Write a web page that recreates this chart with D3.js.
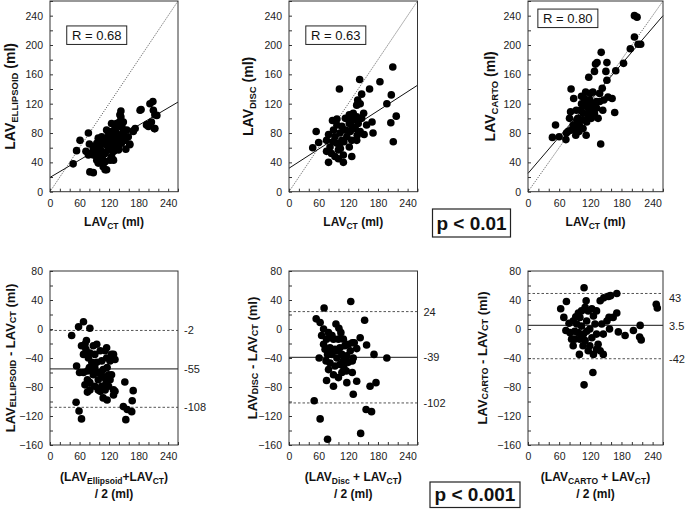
<!DOCTYPE html>
<html><head><meta charset="utf-8">
<script src="https://cdn.jsdelivr.net/npm/d3@7"></script>
<style>
html,body{margin:0;padding:0;background:#fff;}
text{font-family:Arial,"Liberation Sans",sans-serif;}
</style></head>
<body><svg id="c" width="685" height="512"></svg>
<script>
// ---------- DATA ----------
const ellipsoidVsCT = [[47,38],[54,56],[61,70],[78,80],[80,65],[73,55],[78,50],[81,27],[88,26],[91,61],[95,48],[98,39],[102,70],[105,55],[108,43],[112,30],[115,64],[118,82],[122,70],[125,93],[129,55],[129,43],[132,82],[135,75],[139,61],[142,105],[144,110],[142,89],[149,82],[152,70],[154,58],[145,66],[162,65],[169,83],[185,112],[196,91],[206,95],[209,123],[210,111],[217,104],[212,86],[198,92],
[98,57],[102,48],[105,43],[98,73],[108,66],[112,52],[115,84],[118,75],[122,61],[122,43],[108,34],[115,30],[125,48],[129,70],[132,89],[135,80],[139,57],[142,66],[144,102],[141,95],[146,89],[149,80],[152,70],[156,84],[159,75],[162,64],[169,82],[173,86],[183,111],[200,89],[203,120],[213,105],[213,86],
[81,52],[88,50],[95,43],[102,59],[112,70],[118,57],[125,68],[132,64],[135,93],[105,75],[95,66],[88,59],[125,82],[129,55],[146,73],[115,64],[112,41],[102,68],[91,52],[149,95],[135,68],[122,77]];
const discVsCT = [[48,60],[55,82],[60,67],[102,140],[143,153],[147,133],[163,140],[184,150],[210,170],[198,120],[207,132],[217,103],[206,94],[211,68],[168,95],[170,80],[152,78],[137,118],[139,125],[97,99],[88,97],[80,78],[80,40],[110,40],[127,48],
[76,70],[83,61],[76,55],[86,52],[93,75],[97,66],[100,57],[90,84],[103,80],[107,70],[104,59],[110,50],[114,84],[117,75],[114,100],[122,93],[124,82],[127,89],[130,98],[134,86],[137,102],[140,93],[144,82],[147,100],[151,107],[137,70],[127,70],[122,61],[111,68],[100,45],[93,48],[107,89],[97,91],[122,105],[130,107],[144,120],[157,91],[103,66],[89,68],[127,100],[138,77]];
const cartoVsCT = [[47,74],[53,91],[60,75],[73,71],[74,80],[83,140],[82,109],[88,127],[80,100],[112,77],[117,156],[128,164],[130,174],[133,176],[141,190],[140,65],[152,176],[150,164],[152,152],[167,108],[162,127],[154,129],[169,165],[184,175],[197,195],[205,240],[210,238],[205,211],[212,201],[217,201],[135,100],[144,111],[146,125],[138,134],[143,141],
[93,111],[96,100],[99,91],[90,86],[103,120],[106,107],[109,127],[112,116],[116,102],[119,125],[122,114],[125,136],[128,107],[132,123],[111,136],[105,98],[98,82],[92,77],[106,86],[113,95],[120,134],[126,118],[117,109],[101,111],[109,118],[94,98],[87,91],[122,100],[132,114],[116,123],[103,130],[138,123],[83,84],[77,82]];
const baEllipsoid = [[44,-9],[58,3],[68,10],[81,1],[54,-51],[60,-60],[53,-101],[59,-113],[64,-124],[76,-87],[71,-77],[81,-74],[68,-60],[152,-73],[169,-85],[167,-99],[149,-107],[157,-111],[166,-114],[154,-125],[129,-35],[132,-86],[129,-91],[108,-95],[116,-98],
[64,-23],[68,-35],[74,-16],[73,-28],[78,-40],[80,-53],[76,-58],[85,-58],[88,-23],[91,-35],[95,-46],[98,-60],[102,-30],[105,-44],[108,-56],[110,-67],[112,-30],[115,-40],[116,-53],[119,-63],[122,-70],[114,-74],[105,-79],[98,-70],[102,-60],[91,-79],[88,-63],[95,-21],[115,-26],[125,-35],[122,-44],[71,-21],[81,-33],[85,-46],[91,-53],[106,-65],[119,-79],[129,-84],[112,-84],[98,-84],[102,-86],[132,-42],[81,-84],[125,-63],[76,-70]];
const baDisc = [[51,-99],[55,14],[63,9],[71,29],[61,-40],[63,-124],[78,-152],[125,38],[153,12],[157,-22],[172,-35],[198,-40],[176,-74],[164,-79],[156,-111],[167,-114],[145,-144],[130,-90],[137,-72],[117,-74],[128,-60],[95,7],[101,1],[90,-79],[76,-71],[144,-12],[132,-19],[137,-27],
[66,-9],[70,-21],[73,-28],[76,-14],[80,-5],[83,-26],[87,-35],[83,-47],[80,-56],[90,-14],[93,-28],[97,-40],[93,-51],[100,-14],[103,-26],[107,-35],[103,-49],[107,-60],[110,-14],[113,-23],[117,-37],[120,-46],[124,-30],[128,-19],[130,-40],[116,-58],[100,-67],[90,-63],[120,-21],[128,-44],[70,0],[78,-35],[87,-9],[110,-44],[97,-30],[105,-5],[111,-53],[75,-44]];
const baCarto = [[63,28],[69,16],[74,38],[73,-2],[79,8],[87,11],[90,-14],[97,22],[99,-35],[108,57],[112,39],[108,-77],[125,-60],[139,39],[146,43],[155,45],[159,46],[171,49],[171,22],[164,16],[156,16],[152,11],[157,0],[174,-4],[187,-9],[203,-2],[216,5],[215,-11],[218,-15],[247,34],[249,29],
[81,-5],[84,-14],[90,-3],[94,7],[100,16],[103,4],[107,-7],[110,-16],[113,11],[116,25],[119,0],[123,-12],[126,18],[129,7],[132,-7],[135,-21],[139,-30],[145,-35],[132,25],[142,7],[145,-7],[126,-35],[116,-30],[106,-23],[100,-14],[87,-23],[110,30],[123,28],[113,-3],[97,-5],[119,-23],[103,25],[132,-28],[92,17]];

const rValues = ["R = 0.68","R = 0.63","R = 0.80"];
const regressions = [[19.5,0.395],[32,0.435],[25,0.827]]; // intercept, slope
const baLines = [[-2,-55,-108],[24,-39,-102],[49,5,-41]]; // upper LoA, mean, lower LoA (as drawn)
const baLabels = [[-2,-55,-108],[24,-39,-102],[43,3.5,-42]];
const topSubs = ["ELLIPSOID","DISC","CARTO"];
const bottomSubs = ["Ellipsoid","Disc","CARTO"];
const xTicks = [0,60,120,180,240];
const topYTicks = [0,40,80,120,160,200,240];
const botYTicks = [-160,-120,-80,-40,0,40,80];
const pValues = ["p < 0.01","p < 0.001"];

// ---------- LAYOUT ----------
const svg = d3.select("#c");
const colX = [[50,178],[289,417.5],[528,663]];
const topY = [191.7,1], botY = [445,271];
const yTitleTopX = [10,248,490];
const yTitleBotX = [10,251.5,481.5];

function frame(g,x,y){
  g.append("rect").attr("x",x.range()[0]).attr("y",y.range()[1])
   .attr("width",x.range()[1]-x.range()[0]).attr("height",y.range()[0]-y.range()[1])
   .attr("fill","none").attr("stroke","#333").attr("stroke-width",1);
}
function axes(g,x,y,yTicks,yMin,yMax){
  const minorX = d3.range(0,261,20), minorY = d3.range(yMin,yMax+1,20);
  const gx = g.append("g").attr("transform",`translate(0,${y.range()[0]})`);
  gx.call(d3.axisBottom(x).tickValues(minorX).tickSize(-3).tickFormat(""));
  gx.select(".domain").remove();
  const gxl = g.append("g").attr("transform",`translate(0,${y.range()[0]})`);
  gxl.call(d3.axisBottom(x).tickValues(xTicks).tickSize(0).tickPadding(8).tickFormat(d3.format("d")));
  gxl.select(".domain").remove();
  const gy = g.append("g").attr("transform",`translate(${x.range()[0]},0)`);
  gy.call(d3.axisLeft(y).tickValues(minorY).tickSize(-3).tickFormat(""));
  gy.select(".domain").remove();
  const gyl = g.append("g").attr("transform",`translate(${x.range()[0]},0)`);
  gyl.call(d3.axisLeft(y).tickValues(yTicks).tickSize(0).tickPadding(7).tickFormat(d3.format("d")));
  gyl.select(".domain").remove();
  g.selectAll(".tick line").attr("stroke","#333");
  g.selectAll(".tick text").attr("font-size",10.5).attr("fill","#222").attr("font-family","Arial, 'Liberation Sans', sans-serif");
}
function subText(sel, parts, size, subSize){
  parts.forEach(([t,s],i)=>{
    const prev = i>0 ? parts[i-1][1] : false;
    const ts = sel.append("tspan").text(t).attr("font-size", s?subSize:size);
    if(s && !prev) ts.attr("dy", size*0.25);
    if(!s && prev) ts.attr("dy", -size*0.25);
  });
}

// ---------- TOP ROW ----------
const topData = [ellipsoidVsCT, discVsCT, cartoVsCT];
topData.forEach((data,i)=>{
  const x = d3.scaleLinear([0,260], colX[i]);
  const y = d3.scaleLinear([0,260], topY);
  const g = svg.append("g");
  axes(g,x,y,topYTicks,0,260);
  g.append("line").attr("x1",x(0)).attr("y1",y(0)).attr("x2",x(260)).attr("y2",y(260))
    .attr("stroke","#444").attr("stroke-width",0.8).attr("stroke-dasharray","1.2,1.2");
  const [b,m] = regressions[i];
  g.append("line").attr("x1",x(0)).attr("y1",y(b)).attr("x2",x(260)).attr("y2",y(b+m*260))
    .attr("stroke","#111").attr("stroke-width",1);
  g.selectAll("circle").data(data).join("circle")
    .attr("cx",d=>x(d[0])).attr("cy",d=>y(d[1])).attr("r",3.8).attr("fill","#000");
  frame(g,x,y);
  const rb = i===2 ? {x0:x(19),y0:y(249)} : {x0:x(34),y0:y(226)};
  g.append("rect").attr("x",rb.x0).attr("y",rb.y0).attr("width",60).attr("height",18.5)
    .attr("fill","#fff").attr("stroke","#222").attr("stroke-width",1);
  g.append("text").attr("x",rb.x0+30).attr("y",rb.y0+9.5)
    .attr("text-anchor","middle").attr("dominant-baseline","central")
    .attr("font-size",13).attr("fill","#111").text(rValues[i]);
  const xt = g.append("text").attr("x",(colX[i][0]+colX[i][1])/2).attr("y",226)
    .attr("text-anchor","middle").attr("font-weight","bold").attr("fill","#111");
  subText(xt,[["LAV",false],["CT",true],[" (ml)",false]],12,8.5);
  const yt = g.append("text").attr("transform",`translate(${yTitleTopX[i]},${(topY[0]+topY[1])/2}) rotate(-90)`)
    .attr("text-anchor","middle").attr("dominant-baseline","central").attr("font-weight","bold").attr("fill","#111");
  subText(yt,[["LAV",false],[topSubs[i],true],[" (ml)",false]],14,9.5);
});

// ---------- BOTTOM ROW ----------
const botData = [baEllipsoid, baDisc, baCarto];
botData.forEach((data,i)=>{
  const x = d3.scaleLinear([0,260], colX[i]);
  const y = d3.scaleLinear([-160,80], botY);
  const g = svg.append("g");
  axes(g,x,y,botYTicks,-160,80);
  const [up,mean,lo] = baLines[i];
  [up,lo].forEach(v=>g.append("line").attr("x1",x(0)).attr("x2",x(260)).attr("y1",y(v)).attr("y2",y(v))
    .attr("stroke","#555").attr("stroke-width",1).attr("stroke-dasharray","2.5,2"));
  g.append("line").attr("x1",x(0)).attr("x2",x(260)).attr("y1",y(mean)).attr("y2",y(mean))
    .attr("stroke","#444").attr("stroke-width",1.2);
  g.selectAll("circle").data(data).join("circle")
    .attr("cx",d=>x(d[0])).attr("cy",d=>y(d[1])).attr("r",3.8).attr("fill","#000");
  frame(g,x,y);
  baLabels[i].forEach(v=>{
    g.append("text").attr("x",colX[i][1]+6).attr("y",y(v)).attr("dominant-baseline","central")
      .attr("font-size",11).attr("fill","#222").text(v);
  });
  const cx = (colX[i][0]+colX[i][1])/2;
  const xt = g.append("text").attr("x",cx).attr("y",480.5)
    .attr("text-anchor","middle").attr("font-weight","bold").attr("fill","#111");
  const sep = i===0 ? "+" : " + ";
  subText(xt,[["(LAV",false],[bottomSubs[i],true],[sep+"LAV",false],["CT",true],[")",false]],12,8.5);
  g.append("text").attr("x",cx).attr("y",498).attr("text-anchor","middle").attr("font-weight","bold")
    .attr("font-size",12).attr("fill","#111").text("/ 2 (ml)");
  const yt = g.append("text").attr("transform",`translate(${yTitleBotX[i]},${(botY[0]+botY[1])/2}) rotate(-90)`)
    .attr("text-anchor","middle").attr("dominant-baseline","central").attr("font-weight","bold").attr("fill","#111");
  subText(yt,[["LAV",false],[topSubs[i],true],[" - LAV",false],["CT",true],[" (ml)",false]],13,9);
});

// ---------- p boxes ----------
const pBoxes = [[432.5,209,78,28],[430,482,90,25.5]];
pValues.forEach((t,i)=>{
  const [bx,by,bw,bh] = pBoxes[i];
  svg.append("rect").attr("x",bx).attr("y",by).attr("width",bw).attr("height",bh)
    .attr("fill","#fff").attr("stroke","#222").attr("stroke-width",1.2);
  svg.append("text").attr("x",bx+bw/2).attr("y",by+bh/2).attr("text-anchor","middle")
    .attr("dominant-baseline","central").attr("font-size",19).attr("font-weight","bold")
    .attr("fill","#111").text(t);
});
</script></body></html>
